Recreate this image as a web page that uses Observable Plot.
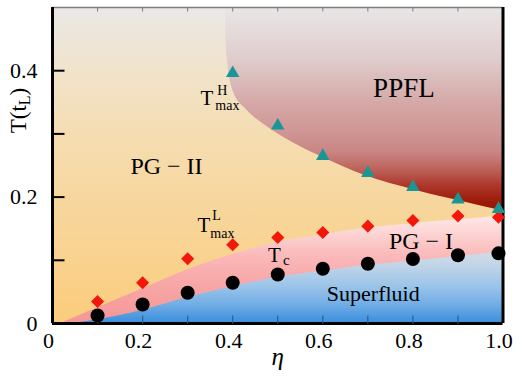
<!DOCTYPE html>
<html><head><meta charset="utf-8">
<script src="https://cdn.jsdelivr.net/npm/d3@7"></script>
<script src="https://cdn.jsdelivr.net/npm/@observablehq/plot@0.6"></script>
<style>html,body{margin:0;padding:0;background:#fff;} svg{display:block}</style>
</head><body><div id="chart"></div>
<script>
// ---- data ----
const eta   = [0.1, 0.2, 0.3, 0.4, 0.5, 0.6, 0.7, 0.8, 0.9, 0.99];
const tc    = [0.0127, 0.030, 0.0486, 0.0644, 0.0776, 0.0866, 0.0945, 0.102, 0.108, 0.111];
const tLmax = [0.0348, 0.0644, 0.1024, 0.1246, 0.136, 0.144, 0.154, 0.163, 0.170, 0.168];
const etaH  = [0.4, 0.5, 0.6, 0.7, 0.8, 0.9, 0.99];
const tHmax = [0.396, 0.313, 0.265, 0.238, 0.216, 0.196, 0.181];

// region boundaries
const ppflEdgeEta = [0.384, 0.385, 0.3895, 0.402, 0.428, 0.472, 0.531, 0.605, 0.694, 0.805, 0.916, 1.0];
const ppflEdgeT   = [0.5, 0.451, 0.4085, 0.366, 0.340, 0.3135, 0.287, 0.261, 0.234, 0.211, 0.192, 0.178];
const pgIEdgeEta  = [0.018, 0.1, 0.2, 0.3, 0.4, 0.5, 0.6, 0.7, 0.8, 0.9, 1.0];
const pgIEdgeT    = [0, 0.025, 0.055, 0.085, 0.109, 0.129, 0.141, 0.151, 0.158, 0.164, 0.170];
const sfEdgeEta   = [0.045, 0.1, 0.2, 0.3, 0.4, 0.5, 0.6, 0.7, 0.8, 0.9, 1.0];
const sfEdgeT     = [0, 0.006, 0.021, 0.041, 0.058, 0.073, 0.083, 0.092, 0.099, 0.106, 0.113];

// axes
const xDomain = [0, 1];
const yDomain = [0, 0.5];
const xTickValues = [0, 0.2, 0.4, 0.6, 0.8, 1.0];
const xTickLabels = ["0", "0.2", "0.4", "0.6", "0.8", "1.0"];
const xMinorTicks = [0.1, 0.2, 0.3, 0.4, 0.5, 0.6, 0.7, 0.8, 0.9];
const yTickValues = [0, 0.2, 0.4];
const yTickLabels = ["0", "0.2", "0.4"];
const yMinorTicks = [0.1, 0.2, 0.3, 0.4];

// ---- tables ----
const points = eta.map((e, i) => ({eta: e, tc: tc[i], tl: tLmax[i]}));
const hPoints = etaH.map((e, i) => ({eta: e, th: tHmax[i]}));
const ppfl = ppflEdgeEta.map((e, i) => ({eta: e, T: ppflEdgeT[i]}));
const pgI = pgIEdgeEta.map((e, i) => ({eta: e, T: pgIEdgeT[i]}));
const sf = sfEdgeEta.map((e, i) => ({eta: e, T: sfEdgeT[i]}));
const xTicks = xTickValues.map((v, i) => ({v, label: xTickLabels[i]}));
const yTicks = yTickValues.map((v, i) => ({v, label: yTickLabels[i]}));

// ---- styles ----
const gradients = {
  gBg:   [[0.5, "#ebe8e7"], [0.4, "#f1e3cb"], [0.3, "#f5ddb2"], [0.2, "#f7d79f"], [0.1, "#f9d28e"], [0, "#fbcc7c"]],
  gPPFL: [[0.5, "#e9e6e6"], [0.42, "#e0cdcd"], [0.35, "#d5a9a8"], [0.3, "#cf9593"], [0.27, "#c98583"], [0.24, "#bb5e55"], [0.22, "#ae3a2e"], [0.19, "#9c1806"]],
  gPink: [[0.175, "#feeceb"], [0.14, "#fcd3d2"], [0.11, "#fabbbb"], [0.07, "#f8a9a9"], [0.03, "#f69e9e"], [0, "#f59696"]],
  gBlue: [[0.12, "#d5dfe8"], [0.09, "#c0d4e7"], [0.06, "#9dc5e9"], [0.03, "#72aee6"], [0, "#3b8edc"]]
};
const tickUp = {draw(c) { c.moveTo(0, 0); c.lineTo(0, -8); }};
const tickRight = {draw(c) { c.moveTo(0, 0); c.lineTo(12, 0); }};
const tickDown = {draw(c) { c.moveTo(0, 0); c.lineTo(0, 4); }};

function defsMark(index, scales) {
  const y = scales.y;
  const yTop = y(yDomain[1]), yBot = y(yDomain[0]);
  const defs = d3.create("svg:defs");
  for (const [id, stops] of Object.entries(gradients)) {
    const g = defs.append("linearGradient").attr("id", id)
      .attr("gradientUnits", "userSpaceOnUse")
      .attr("x1", 0).attr("x2", 0).attr("y1", yTop).attr("y2", yBot);
    for (const [t, c] of stops) g.append("stop").attr("offset", (y(t) - yTop) / (yBot - yTop)).attr("stop-color", c);
  }
  return defs.node();
}

const font = "'Liberation Serif', 'DejaVu Serif', serif";
const lab = (txt, x, y, opts = {}) => Plot.text([txt], {x: () => x, y: () => y, text: d => d, fill: "black", fontFamily: font, ...opts});

const chart = Plot.plot({
  width: 523, height: 383,
  marginLeft: 52, marginRight: 20.5, marginTop: 7, marginBottom: 60,
  x: {domain: xDomain, axis: null},
  y: {domain: yDomain, axis: null},
  style: {fontFamily: font, background: "white", color: "black"},
  marks: [
    defsMark,
    Plot.frame({fill: "url(#gBg)", stroke: "none"}),
    Plot.areaY(ppfl, {x: "eta", y1: "T", y2: () => yDomain[1], curve: "monotone-x", fill: "url(#gPPFL)"}),
    Plot.areaY(pgI, {x: "eta", y1: () => 0, y2: "T", curve: "monotone-x", fill: "url(#gPink)"}),
    Plot.areaY(sf, {x: "eta", y1: () => 0, y2: "T", curve: "monotone-x", fill: "url(#gBlue)"}),
    // frame lines
    Plot.ruleY([yDomain[1]], {stroke: "#7d7d7d", strokeWidth: 1.3}),
    Plot.dot(xMinorTicks, {x: d => d, y: () => yDomain[1], symbol: tickDown, stroke: "#7d7d7d", fill: "none", strokeWidth: 1}),
    Plot.ruleX([xDomain[1]], {stroke: "black", strokeWidth: 3}),
    Plot.ruleX([xDomain[0]], {stroke: "black", strokeWidth: 3}),
    Plot.ruleY([yDomain[0]], {stroke: "black", strokeWidth: 3}),
    Plot.dot(xMinorTicks, {x: d => d, y: () => 0, symbol: tickUp, stroke: "#2d5f8c", fill: "none", strokeWidth: 1.2}),
    Plot.dot(yMinorTicks, {x: () => 0, y: d => d, symbol: tickRight, stroke: "black", fill: "none", strokeWidth: 2}),
    // data
    Plot.dot(points, {x: "eta", y: "tc", r: 7, fill: "black", stroke: "none"}),
    Plot.dot(points, {x: "eta", y: "tl", r: 5.9, symbol: "diamond2", fill: "#f3160a", stroke: "none"}),
    Plot.dot(hPoints, {x: "eta", y: "th", r: 5, symbol: "triangle", fill: "#1b9696", stroke: "none"}),
    // tick labels
    Plot.text(xTicks, {x: "v", y: () => 0, text: "label", dy: 17, dx: -4, fontSize: 22, fill: "black", fontFamily: font}),
    Plot.text(yTicks, {x: () => 0, y: "v", text: "label", textAnchor: "end", dx: -15, fontSize: 22, fill: "black", fontFamily: font}),
    // axis titles
    Plot.text(["η"], {x: () => 0.5, frameAnchor: "bottom", dy: 41, text: d => d, fontSize: 25, fontStyle: "italic", fill: "black", fontFamily: font}),
    Plot.text(["T(tL)"], {y: () => 0.301, frameAnchor: "left", dx: -34, rotate: -90, text: d => d, fontSize: 23, fill: "black", fontFamily: font}),
    // region labels
    lab("PPFL", 0.78, 0.372, {fontSize: 27}),
    lab("PG − II", 0.253, 0.249, {fontSize: 24}),
    lab("PG − I", 0.818, 0.1305, {fontSize: 24}),
    lab("Superfluid", 0.712, 0.0475, {fontSize: 22}),
    // T^H_max
    lab("T", 0.3426, 0.357, {fontSize: 21}),
    lab("H", 0.3426, 0.357, {fontSize: 14, textAnchor: "start", dx: 10.5, dy: -7}),
    lab("max", 0.3426, 0.357, {fontSize: 14, textAnchor: "start", dx: 8.5, dy: 8}),
    // T^L_max
    lab("T", 0.336, 0.1547, {fontSize: 21}),
    lab("L", 0.336, 0.1547, {fontSize: 14, textAnchor: "start", dx: 8.5, dy: -10}),
    lab("max", 0.336, 0.1547, {fontSize: 14, textAnchor: "start", dx: 6.5, dy: 7.5}),
    // T_c
    lab("T", 0.4927, 0.1077, {fontSize: 21}),
    lab("c", 0.4927, 0.1077, {fontSize: 15, textAnchor: "start", dx: 8.5, dy: 5.2})
  ]
});

// subscript in the y-axis title
const NS = "http://www.w3.org/2000/svg";
for (const t of chart.querySelectorAll("text")) {
  if (t.textContent === "T(tL)") {
    t.textContent = "T(t";
    const s = document.createElementNS(NS, "tspan");
    s.setAttribute("font-size", "16"); s.setAttribute("dy", "4"); s.textContent = "L";
    const r = document.createElementNS(NS, "tspan");
    r.setAttribute("dy", "-4"); r.textContent = ")";
    t.appendChild(s); t.appendChild(r);
  }
}
document.getElementById("chart").appendChild(chart);
</script>
</body></html>
